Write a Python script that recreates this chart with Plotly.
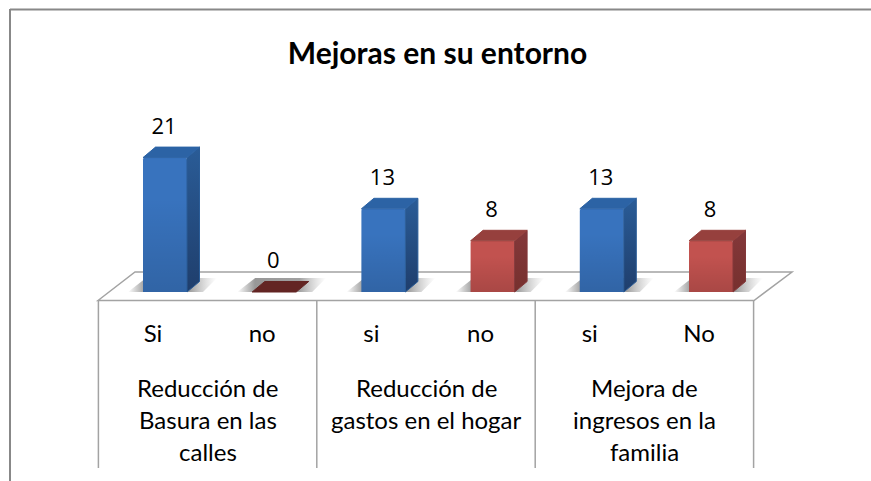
import plotly.graph_objects as go

title = "Mejoras en su entorno"
answers = ["Si", "no", "si", "no", "si", "No"]
values = [21, 0, 13, 8, 13, 8]
groups = [
    ["Reducción de", "Basura en las", "calles"],
    ["Reducción de", "gastos en el hogar"],
    ["Mejora de", "ingresos en la", "familia"],
]
group_centres = [0.5, 2.5, 4.5]
group_edges = [-0.5, 1.5, 3.5, 5.5]

W, H = 871, 481
PX_X = 109.2      # pixels per category
PX_Y = 6.4        # pixels per value unit
X0_PX, Y0_PX = 153, 292
SHIFT = 12 / PX_X
BAR_W = 44 / PX_X
DX = 12.5 / PX_X
DY = 10.5 / PX_Y
GREY = "#A3A3A3"
FRAME = "#888888"
FONT = "Lato, 'Open Sans', sans-serif"
DIGIT_FONT = "'Open Sans', Lato, sans-serif"
BLUE = dict(front="#3873BE", top="#2C63A5", side=["#2A5C97", "#1F3E6C"])
RED = dict(front="#C2524F", top="#96403D", side=["#84383A", "#76302E"])
ZERO_TOP = "#632523"


def px(v):
    return v / W


def py(v):
    return 1 - v / H


fig = go.Figure()

# soft shadows lying on the floor
for i, v in enumerate(values):
    c = i + SHIFT
    l, r = c - BAR_W / 2, c + BAR_W / 2
    fig.add_trace(go.Scatter(
        x=[l - 15 / PX_X, r + 16 / PX_X, r + 30 / PX_X, l + 3 / PX_X, l - 15 / PX_X],
        y=[0, 0, 14 / PX_Y, 14 / PX_Y, 0],
        mode="lines", line=dict(width=0), fill="toself",
        fillgradient=dict(type="horizontal", colorscale=[
            [0, "rgba(140,140,140,0)"], [0.2, "rgba(140,140,140,0.9)"],
            [0.7, "rgba(150,150,150,0.9)"], [1, "rgba(190,190,190,0)"]]),
        hoverinfo="skip", showlegend=False, zorder=0))

# front faces
for idx, style in ((range(0, 6, 2), BLUE), (range(1, 6, 2), RED)):
    fig.add_trace(go.Bar(
        x=[i + SHIFT for i in idx], y=[values[i] for i in idx], width=BAR_W,
        marker=dict(color=style["front"], line=dict(width=0), cornerradius=2),
        hoverinfo="skip", showlegend=False, zorder=1))

# right and top faces, and the soft shading on each front
for i, v in enumerate(values):
    style = BLUE if i % 2 == 0 else RED
    c = i + SHIFT
    l, r = c - BAR_W / 2, c + BAR_W / 2
    if v > 0:
        fig.add_trace(go.Scatter(
            x=[l, r, r, l, l], y=[0, 0, v, v, 0],
            mode="lines", line=dict(width=0), fill="toself",
            fillgradient=dict(type="vertical", colorscale=[
                [0, "rgba(0,0,0,0.13)"], [0.7, "rgba(0,0,0,0)"], [1, "rgba(0,0,0,0)"]]),
            hoverinfo="skip", showlegend=False, zorder=2))
        fig.add_trace(go.Scatter(
            x=[r, r + DX, r + DX, r, r], y=[0, DY, v + DY, v, 0],
            mode="lines", line=dict(width=1, color=style["side"][0]), fill="toself",
            fillgradient=dict(type="vertical", colorscale=[[0, style["side"][1]], [1, style["side"][0]]]),
            hoverinfo="skip", showlegend=False, zorder=2))
    top = style["top"] if v > 0 else ZERO_TOP
    fig.add_trace(go.Scatter(
        x=[l, l + DX, r + DX, r, l], y=[v, v + DY, v + DY, v, v],
        mode="lines", line=dict(width=1, color=top), fill="toself", fillcolor=top,
        hoverinfo="skip", showlegend=False, zorder=2))

# value labels
fig.add_trace(go.Scatter(
    x=[i + SHIFT - 1 / PX_X for i in range(len(values))],
    y=[v + 29.5 / PX_Y for v in values],
    mode="text", text=[str(v) for v in values], textposition="middle center",
    textfont=dict(family=DIGIT_FONT, size=22, color="#000000"),
    hoverinfo="skip", showlegend=False, zorder=3))

shapes = [
    dict(type="line", xref="paper", yref="paper", x0=px(10), x1=1, y0=py(9.5), y1=py(9.5),
         line=dict(color=FRAME, width=2)),
    dict(type="line", xref="paper", yref="paper", x0=px(10), x1=px(10), y0=py(9), y1=0,
         line=dict(color=FRAME, width=2)),
    # floor
    dict(type="path", xref="paper", yref="paper", layer="below",
         path=f"M {px(98)} {py(300.5)} L {px(135)} {py(272)} L {px(792)} {py(272)} L {px(754)} {py(300.5)} Z",
         line=dict(color=GREY, width=1.5), fillcolor="#FFFFFF"),
]
for e in group_edges:
    shapes.append(dict(type="line", xref="x", yref="paper", x0=e, x1=e, y0=py(300), y1=py(468),
                       line=dict(color=GREY, width=1.5)))

annotations = []
line_y = [387, 419, 451]
for centre, lines in zip(group_centres, groups):
    for k, t in enumerate(lines):
        annotations.append(dict(
            x=centre, xref="x", y=py(line_y[k]), yref="paper", text=t, showarrow=False,
            xanchor="center", yanchor="middle", font=dict(family=FONT, size=24, color="#000000")))

fig.update_layout(
    width=W, height=H, autosize=False,
    margin=dict(l=0, r=0, t=0, b=0),
    paper_bgcolor="#FFFFFF", plot_bgcolor="rgba(0,0,0,0)",
    showlegend=False,
    title=dict(text=f"<b>{title}</b>", x=437.5 / W, xanchor="center", xref="paper",
               y=py(53), yanchor="middle", yref="paper",
               font=dict(family=FONT, size=30, color="#000000")),
    xaxis=dict(domain=[0, 1], range=[-X0_PX / PX_X, (W - X0_PX) / PX_X],
               anchor="free", position=py(300), side="bottom",
               tickmode="array", tickvals=list(range(len(answers))), ticktext=answers,
               ticks="outside", ticklen=12, tickcolor="rgba(0,0,0,0)",
               tickfont=dict(family=FONT, size=24, color="#000000"),
               showgrid=False, zeroline=False, showline=False, automargin=False),
    yaxis=dict(domain=[0, 1], range=[(Y0_PX - H) / PX_Y, Y0_PX / PX_Y],
               visible=False, showgrid=False, zeroline=False),
    shapes=shapes, annotations=annotations,
)

fig.write_html("out.html", config={"displayModeBar": False},
               post_script="document.body.style.margin='0';document.documentElement.style.overflow='hidden';")
